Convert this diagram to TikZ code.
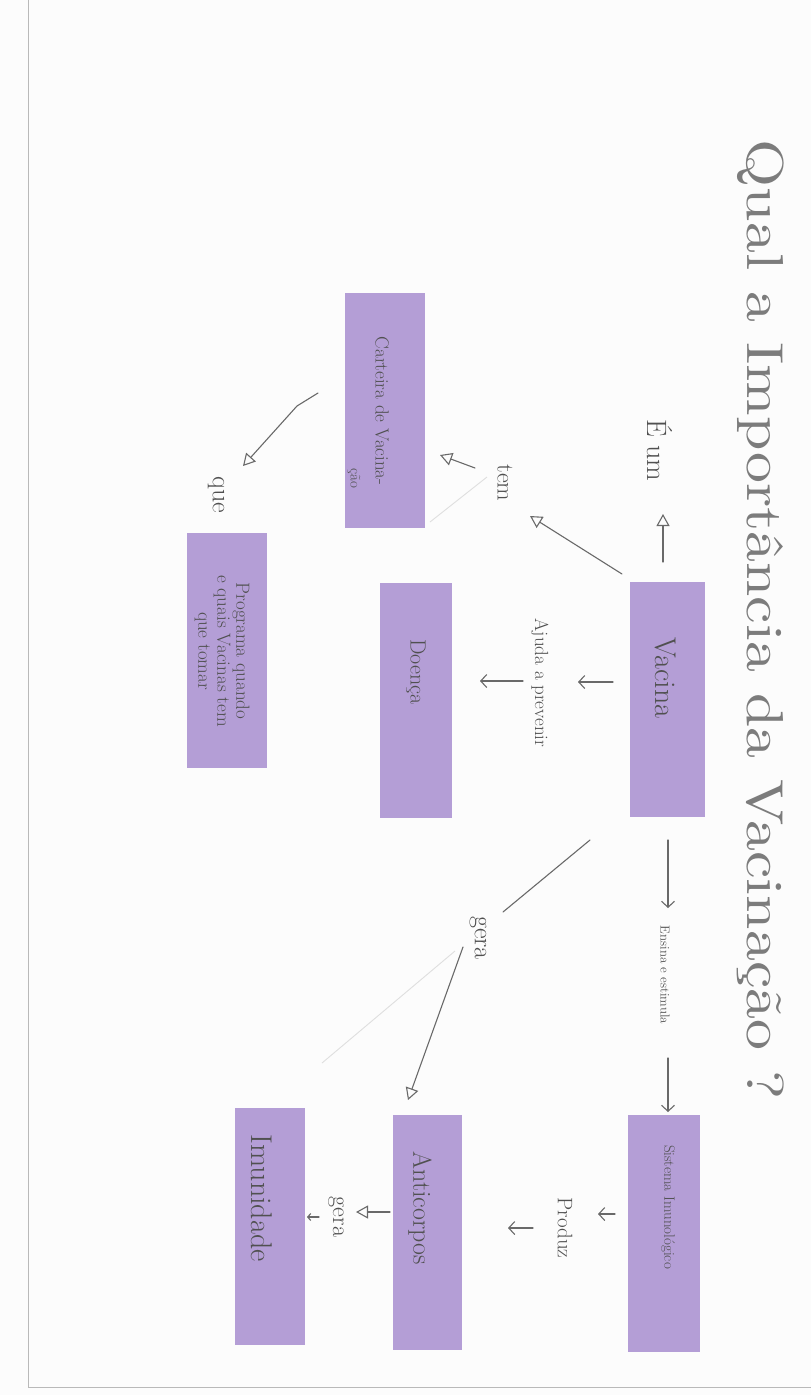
\documentclass[tikz,border=0pt]{standalone}
\usepackage{fontspec}
\usetikzlibrary{arrows.meta}
\definecolor{cardc}{RGB}{180,158,214}
\definecolor{ink}{RGB}{80,80,80}
\definecolor{penc}{RGB}{105,105,105}
\definecolor{paper}{RGB}{252,252,252}
\newcommand\txtsz[1]{\fontsize{#1}{#1}\selectfont}
\begin{document}
\begin{tikzpicture}[x=1pt,y=-1pt,
  cardbox/.style={fill=cardc, draw=none, inner sep=0pt},
  hand/.style={rotate=-90, text=ink, inner sep=1pt},
  pen/.style={draw=penc, line width=1.1pt, line cap=round, line join=round},
  faint/.style={draw=gray!25, line width=0.9pt},
  tri/.style={-{Triangle[open,length=12pt,width=13pt,line width=1.1pt]}},
  barb/.style={-{Straight Barb[length=6pt,width=13pt,line width=1.1pt]}}
]
\useasboundingbox (0,0) rectangle (811,1395);
\fill[paper] (0,0) rectangle (811,1395);
\draw[gray!55, line width=0.8pt] (28,0) -- (28,1387) -- (811,1387);

% title
\node[hand, text=ink!75] (title) at (761,620)
  {\resizebox*{960pt}{47pt}{Qual a Importância da Vacinação ?}};

% boxes
\node[cardbox, minimum width=75pt, minimum height=235pt] (vacina) at (667.5,699.5) {};
\node[cardbox, minimum width=80pt, minimum height=235pt] (carteira) at (385,410.5) {};
\node[cardbox, minimum width=72pt, minimum height=235pt] (doenca) at (416,700.5) {};
\node[cardbox, minimum width=80pt, minimum height=235pt] (programa) at (227,650.5) {};
\node[cardbox, minimum width=72pt, minimum height=237pt] (sistema) at (664,1233.5) {};
\node[cardbox, minimum width=69pt, minimum height=235pt] (anticorpos) at (427.5,1232.5) {};
\node[cardbox, minimum width=70pt, minimum height=237pt] (imunidade) at (270,1226.5) {};

% box texts
\node[hand, font=\txtsz{30}] (vacinaT) at (665,678) {Vacina};
\node[hand, font=\txtsz{19}] (carteiraT) at (382,411) {Carteira de Vacina-};
\node[hand, font=\txtsz{15}] (carteiraT2) at (354,478) {ção};
\node[hand, font=\txtsz{22}] (doencaT) at (416,672) {Doença};
\node[hand, font=\txtsz{19}, align=center] (programaT) at (222,651)
  {Programa quando\\e quais Vacinas tem\\que tomar};
\node[hand, font=\txtsz{15}] (sistemaT) at (668,1207) {Sistema Imunológico};
\node[hand, font=\txtsz{26}] (anticorposT) at (420,1208) {Anticorpos};
\node[hand, font=\txtsz{30}] (imunidadeT) at (262,1198) {Imunidade};

% link labels
\node[hand, font=\txtsz{28}] (eum) at (660,450) {É um};
\node[hand, font=\txtsz{24}] (tem) at (505,483) {tem};
\node[hand, font=\txtsz{19}] (ajuda) at (540,683) {Ajuda a prevenir};
\node[hand, font=\txtsz{13}] (ensina) at (665,975) {Ensina e estimula};
\node[hand, font=\txtsz{26}] (gera1) at (478,938) {gera};
\node[hand, font=\txtsz{21}] (produz) at (565,1228) {Produz};
\node[hand, font=\txtsz{24}] (gera2) at (336,1217) {gera};
\node[hand, font=\txtsz{26}] (que) at (216,495) {que};

% connector points
\coordinate (vE) at (663,562);
\coordinate (eTip) at (663,514);
\coordinate (vT) at (622,574);
\coordinate (tTip) at (530,516);
\coordinate (tS) at (475,468);
\coordinate (cTip) at (440,455);
\coordinate (fA) at (487,477);
\coordinate (fB) at (430,522);
\coordinate (vA) at (613,682);
\coordinate (aTip) at (578,682);
\coordinate (aS) at (523,681);
\coordinate (dTip) at (480,681);
\coordinate (vS) at (668,840);
\coordinate (sTip1) at (668,908);
\coordinate (eS) at (668,1058);
\coordinate (sTip2) at (668,1112);
\coordinate (vG) at (590,840);
\coordinate (gEnd) at (503,912);
\coordinate (gS) at (463,947);
\coordinate (anTip) at (408,1100);
\coordinate (gF) at (455,951);
\coordinate (gFend) at (322,1063);
\coordinate (sP) at (615,1214);
\coordinate (pTip1) at (598,1214);
\coordinate (pS) at (533,1228);
\coordinate (pTip2) at (508,1228);
\coordinate (aG) at (390,1212);
\coordinate (gTip) at (356,1212);
\coordinate (gS2) at (319,1217);
\coordinate (iTip) at (307,1217);
\coordinate (cQ) at (318,393);
\coordinate (cQm) at (297,406);
\coordinate (qTip) at (243,466);

% connectors
\draw[pen, tri] (vE) -- (eTip);
\draw[pen, tri] (vT) -- (tTip);
\draw[pen, tri] (tS) -- (cTip);
\draw[faint] (fA) -- (fB);
\draw[pen, barb] (vA) -- (aTip);
\draw[pen, barb] (aS) -- (dTip);
\draw[pen, barb] (vS) -- (sTip1);
\draw[pen, barb] (eS) -- (sTip2);
\draw[pen] (vG) -- (gEnd);
\draw[pen, tri] (gS) -- (anTip);
\draw[faint] (gF) -- (gFend);
\draw[pen, barb] (sP) -- (pTip1);
\draw[pen, barb] (pS) -- (pTip2);
\draw[pen, tri] (aG) -- (gTip);
\draw[pen, -{Straight Barb[length=3pt,width=7pt]}] (gS2) -- (iTip);
\draw[pen, tri] (cQ) -- (cQm) -- (qTip);
\end{tikzpicture}
\end{document}
